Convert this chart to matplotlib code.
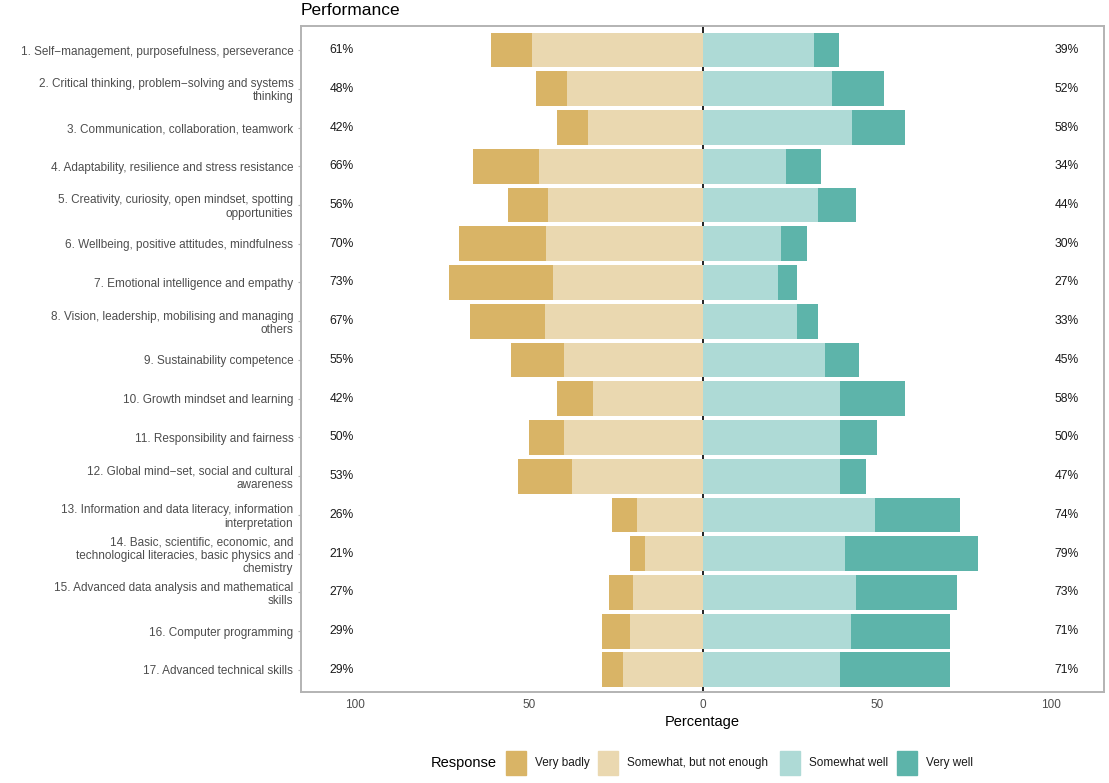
import matplotlib.pyplot as plt
from matplotlib.patches import Rectangle

plt.rcParams['font.family'] = ['Liberation Sans', 'DejaVu Sans']

# data (percent of respondents)
skills = [
    "1. Self\u2212management, purposefulness, perseverance",
    "2. Critical thinking, problem\u2212solving and systems\nthinking",
    "3. Communication, collaboration, teamwork",
    "4. Adaptability, resilience and stress resistance",
    "5. Creativity, curiosity, open mindset, spotting\nopportunities",
    "6. Wellbeing, positive attitudes, mindfulness",
    "7. Emotional intelligence and empathy",
    "8. Vision, leadership, mobilising and managing\nothers",
    "9. Sustainability competence",
    "10. Growth mindset and learning",
    "11. Responsibility and fairness",
    "12. Global mind\u2212set, social and cultural\nawareness",
    "13. Information and data literacy, information\ninterpretation",
    "14. Basic, scientific, economic, and\ntechnological literacies, basic physics and\nchemistry",
    "15. Advanced data analysis and mathematical\nskills",
    "16. Computer programming",
    "17. Advanced technical skills",
]
very_badly = [12, 9, 9, 19, 11.5, 25, 30, 21.5, 15, 10.5, 10, 15.5, 7, 4.5, 7, 8, 6]
not_enough = [49, 39, 33, 47, 44.5, 45, 43, 45.5, 40, 31.5, 40, 37.5, 19, 16.5, 20, 21, 23]
somewhat_well = [32, 37, 43, 24, 33, 22.5, 21.5, 27, 35, 39.5, 39.5, 39.5, 49.5, 41, 44, 42.5, 39.5]
very_well = [7, 15, 15, 10, 11, 7.5, 5.5, 6, 10, 18.5, 10.5, 7.5, 24.5, 38, 29, 28.5, 31.5]

responses = ["Very badly", "Somewhat, but not enough", "Somewhat well", "Very well"]
colors = ["#D9B466", "#EAD8B0", "#AEDAD6", "#5DB4AA"]

W, H = 1109, 783
fig = plt.figure(figsize=(W / 100, H / 100), dpi=100)
ax = fig.add_axes([301 / W, (H - 692) / H, (1104 - 301) / W, (692 - 26) / H])

n = len(skills)
ypos = list(range(n))
neg_inner = [-v for v in not_enough]
neg_outer = [-(a + b) for a, b in zip(very_badly, not_enough)]

ax.axvline(0, color="black", lw=1.2, zorder=1)
ax.barh(ypos, very_badly, left=neg_outer, height=0.9, color=colors[0], zorder=2)
ax.barh(ypos, not_enough, left=neg_inner, height=0.9, color=colors[1], zorder=2)
ax.barh(ypos, somewhat_well, left=0, height=0.9, color=colors[2], zorder=2)
ax.barh(ypos, very_well, left=somewhat_well, height=0.9, color=colors[3], zorder=2)

# total percentages at both sides
for i in range(n):
    low = very_badly[i] + not_enough[i]
    high = somewhat_well[i] + very_well[i]
    ax.text(-103.8, i, f"{int(round(low))}%", ha="center", va="center",
            fontsize=8.7, color="#1A1A1A")
    ax.text(104.6, i, f"{int(round(high))}%", ha="center", va="center",
            fontsize=8.7, color="#1A1A1A")

ax.set_xlim(-115.5, 115.3)
ax.set_ylim(n - 0.43, -0.62)
ax.set_xticks([-100, -50, 0, 50, 100])
ax.set_xticklabels(["100", "50", "0", "50", "100"])
ax.set_yticks(ypos)
ax.set_yticklabels(skills, linespacing=1.12)
ax.tick_params(axis="x", length=0, pad=5, labelsize=8.5, labelcolor="#4D4D4D")
ax.tick_params(axis="y", length=2.5, width=0.8, color="#B3B3B3", pad=3,
               labelsize=8.5, labelcolor="#4D4D4D")
for s in ax.spines.values():
    s.set_color("#B3B3B3")
    s.set_linewidth(1.4)

ax.set_xlabel("Percentage", fontsize=10.5, color="black", labelpad=3)
ax.set_title("Performance", loc="left", fontsize=12.5, color="black", pad=8)

# legend
ly = (H - 763) / H
fig.text(431 / W, ly, "Response", fontsize=10.5, va="center", ha="left")
keys_x = [506, 598, 780, 897]
for kx, lab, col in zip(keys_x, responses, colors):
    fig.patches.append(Rectangle((kx / W, (H - 775) / H), 20 / W, 24 / H,
                                 transform=fig.transFigure, color=col))
    fig.text((kx + 29) / W, ly, lab, fontsize=8.5, va="center", ha="left",
             color="#1A1A1A")

fig.savefig("out.png", dpi=100)
